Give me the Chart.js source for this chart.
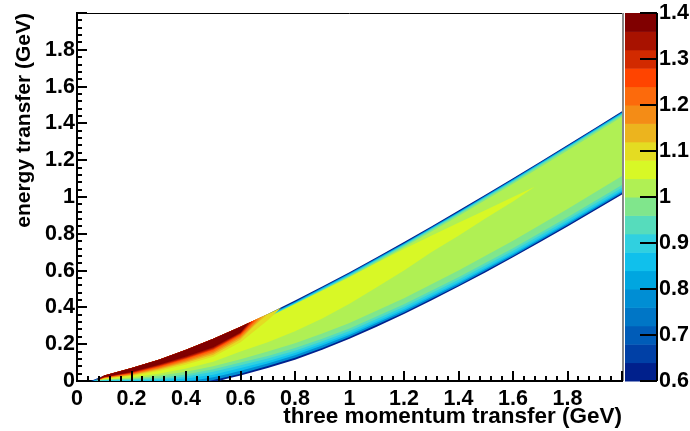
<!DOCTYPE html>
<html>
<head>
<meta charset="utf-8">
<script src="https://cdn.jsdelivr.net/npm/chart.js@4.4.1/dist/chart.umd.min.js"></script>
<style>
  html, body { margin: 0; padding: 0; background: #fff; }
  #wrap { width: 690px; height: 431px; }
</style>
</head>
<body>
<div id="wrap"><canvas id="chart" width="690" height="431"></canvas></div>
<script>
// palette levels of the z axis (ratio), 20 bands of 0.04
const levels = [0.60, 0.64, 0.68, 0.72, 0.76, 0.80, 0.84, 0.88, 0.92, 0.96, 1.00,
                1.04, 1.08, 1.12, 1.16, 1.20, 1.24, 1.28, 1.32, 1.36, 1.40];
const palette = ['#00208c', '#0040a6', '#005cb8', '#0076c6', '#008ed4', '#00a6e0',
                 '#10c0ec', '#30d0e0', '#56dcbc', '#80e68c', '#b0f054', '#d8f826',
                 '#e4dc22', '#ecb41e', '#f48c16', '#fc6a0c', '#ff4400', '#d22a00',
                 '#a81200', '#800000'];

const xTicks = [0, 0.2, 0.4, 0.6, 0.8, 1, 1.2, 1.4, 1.6, 1.8];
const yTicks = [0, 0.2, 0.4, 0.6, 0.8, 1, 1.2, 1.4, 1.6, 1.8];
const zTicks = [0.6, 0.7, 0.8, 0.9, 1, 1.1, 1.2, 1.3, 1.4];

// contour regions, [q (GeV), omega (GeV)], value >= level
const c060 = [[0.05,0],[0.1,0.03],[0.2,0.07],[0.3,0.116],[0.4,0.17],[0.5,0.23],[0.6,0.295],[0.7,0.364],[0.8,0.437],[0.9,0.513],[1.0,0.591],[1.1,0.672],[1.2,0.755],[1.3,0.84],[1.4,0.926],[1.5,1.014],[1.6,1.102],[1.7,1.192],[1.8,1.283],[1.9,1.374],[2.0,1.466],
              [2.0,1.014],[1.9,0.926],[1.8,0.84],[1.7,0.755],[1.6,0.672],[1.5,0.591],[1.4,0.513],[1.3,0.437],[1.2,0.364],[1.1,0.295],[1.0,0.23],[0.9,0.17],[0.8,0.116],[0.7,0.07],[0.6,0.03],[0.55,0.012],[0.52,0]];
const c076 = [[0.056,0],[0.1,0.027],[0.2,0.066],[0.3,0.111],[0.4,0.165],[0.5,0.225],[0.6,0.289],[0.7,0.358],[0.8,0.431],[1.0,0.585],[1.2,0.749],[1.4,0.92],[1.6,1.096],[1.8,1.277],[2.0,1.46],
              [2.0,1.022],[1.8,0.848],[1.6,0.68],[1.4,0.521],[1.2,0.372],[1.0,0.239],[0.9,0.18],[0.8,0.127],[0.7,0.081],[0.6,0.04],[0.55,0.022],[0.5,0.005],[0.48,0]];
const c084 = [[0.06,0],[0.1,0.025],[0.2,0.062],[0.3,0.107],[0.4,0.161],[0.5,0.221],[0.6,0.285],[0.7,0.354],[0.8,0.427],[1.0,0.581],[1.2,0.745],[1.4,0.916],[1.6,1.092],[1.8,1.273],[2.0,1.456],
              [2.0,1.03],[1.8,0.856],[1.6,0.688],[1.4,0.53],[1.2,0.382],[1.0,0.25],[0.9,0.193],[0.8,0.14],[0.7,0.095],[0.6,0.056],[0.55,0.037],[0.5,0.02],[0.45,0.008],[0.4,0.002],[0.35,0]];
const c088 = [[0.065,0.001],[0.1,0.023],[0.2,0.06],[0.3,0.104],[0.4,0.158],[0.5,0.218],[0.6,0.282],[0.7,0.351],[0.8,0.424],[1.0,0.578],[1.2,0.742],[1.4,0.913],[1.6,1.089],[1.8,1.27],[2.0,1.453],
              [2.0,1.038],[1.8,0.864],[1.6,0.696],[1.4,0.538],[1.2,0.391],[1.0,0.26],[0.9,0.204],[0.8,0.152],[0.7,0.108],[0.6,0.07],[0.5,0.034],[0.4,0.013],[0.3,0.004],[0.2,0.002],[0.1,0.002]];
const c092 = [[0.07,0.002],[0.1,0.021],[0.2,0.057],[0.3,0.101],[0.4,0.155],[0.5,0.215],[0.6,0.279],[0.7,0.348],[0.8,0.421],[1.0,0.575],[1.2,0.739],[1.4,0.91],[1.6,1.086],[1.8,1.267],[2.0,1.45],
              [2.0,1.05],[1.8,0.876],[1.6,0.708],[1.4,0.55],[1.2,0.403],[1.0,0.272],[0.9,0.216],[0.8,0.165],[0.7,0.122],[0.6,0.085],[0.5,0.05],[0.4,0.024],[0.3,0.01],[0.2,0.005],[0.1,0.004]];
const c096 = [[0.075,0.003],[0.1,0.019],[0.2,0.054],[0.3,0.097],[0.4,0.151],[0.5,0.211],[0.6,0.275],[0.7,0.344],[0.8,0.417],[1.0,0.571],[1.2,0.735],[1.4,0.906],[1.6,1.082],[1.8,1.263],[2.0,1.446],
              [2.0,1.065],[1.8,0.89],[1.6,0.722],[1.4,0.564],[1.2,0.417],[1.0,0.286],[0.9,0.23],[0.8,0.18],[0.7,0.136],[0.6,0.1],[0.5,0.064],[0.4,0.036],[0.3,0.018],[0.2,0.009],[0.1,0.006]];
const c100 = [[0.08,0.005],[0.1,0.018],[0.2,0.052],[0.3,0.094],[0.4,0.147],[0.5,0.206],[0.6,0.27],[0.7,0.338],[0.8,0.41],[1.0,0.563],[1.2,0.727],[1.4,0.897],[1.6,1.072],[1.8,1.253],[2.0,1.436],
              [2.0,1.114],[1.8,0.935],[1.6,0.762],[1.4,0.6],[1.2,0.45],[1.0,0.315],[0.9,0.258],[0.8,0.205],[0.7,0.16],[0.6,0.118],[0.5,0.08],[0.4,0.05],[0.3,0.028],[0.2,0.014],[0.1,0.008]];
const c104 = [[0.085,0.007],[0.1,0.018],[0.2,0.055],[0.3,0.1],[0.4,0.152],[0.5,0.212],[0.6,0.276],[0.7,0.345],[0.8,0.418],[0.9,0.492],[1.0,0.565],[1.1,0.642],[1.2,0.718],[1.3,0.79],[1.4,0.86],[1.5,0.93],[1.6,1.0],[1.68,1.056],
              [1.6,0.975],[1.5,0.885],[1.4,0.79],[1.3,0.7],[1.2,0.6],[1.1,0.51],[1.0,0.42],[0.9,0.34],[0.8,0.27],[0.7,0.21],[0.6,0.16],[0.5,0.105],[0.4,0.068],[0.3,0.04],[0.2,0.02],[0.1,0.01]];
const c108 = [[0.088,0.008],[0.1,0.03],[0.2,0.07],[0.3,0.116],[0.4,0.17],[0.5,0.23],[0.6,0.295],[0.7,0.364],[0.75,0.4],
              [0.7,0.33],[0.65,0.27],[0.6,0.21],[0.5,0.132],[0.4,0.09],[0.3,0.055],[0.2,0.027],[0.1,0.013]];
const c112 = [[0.085,0.007],[0.1,0.03],[0.2,0.07],[0.3,0.116],[0.4,0.17],[0.5,0.23],[0.6,0.295],[0.7,0.364],
              [0.65,0.3],[0.6,0.225],[0.5,0.143],[0.4,0.099],[0.3,0.061],[0.2,0.031],[0.1,0.014]];
const c116 = [[0.082,0.006],[0.1,0.03],[0.2,0.07],[0.3,0.116],[0.4,0.17],[0.5,0.23],[0.6,0.295],[0.68,0.35],
              [0.6,0.235],[0.5,0.152],[0.4,0.106],[0.3,0.066],[0.2,0.034],[0.1,0.016]];
const c120 = [[0.079,0.005],[0.1,0.03],[0.2,0.07],[0.3,0.116],[0.4,0.17],[0.5,0.23],[0.6,0.295],[0.665,0.34],
              [0.6,0.243],[0.5,0.16],[0.4,0.113],[0.3,0.071],[0.2,0.038],[0.1,0.018]];
const c124 = [[0.076,0.005],[0.1,0.03],[0.2,0.07],[0.3,0.116],[0.4,0.17],[0.5,0.23],[0.6,0.295],[0.655,0.333],
              [0.6,0.25],[0.5,0.168],[0.4,0.119],[0.3,0.076],[0.2,0.041],[0.1,0.019]];
const c128 = [[0.073,0.004],[0.1,0.03],[0.2,0.07],[0.3,0.116],[0.4,0.17],[0.5,0.23],[0.6,0.295],[0.645,0.326],
              [0.6,0.256],[0.5,0.172],[0.4,0.123],[0.3,0.08],[0.2,0.043],[0.1,0.02]];
const c132 = [[0.07,0.004],[0.1,0.03],[0.2,0.07],[0.3,0.116],[0.4,0.17],[0.5,0.23],[0.6,0.295],[0.638,0.321],
              [0.6,0.26],[0.5,0.178],[0.4,0.128],[0.3,0.084],[0.2,0.046],[0.1,0.021]];
const c136 = [[0.068,0.003],[0.1,0.03],[0.2,0.07],[0.3,0.116],[0.4,0.17],[0.5,0.23],[0.6,0.295],[0.63,0.316],
              [0.6,0.264],[0.5,0.184],[0.4,0.133],[0.3,0.088],[0.2,0.049],[0.1,0.022]];

// [palette band index, region], drawn from lowest to highest level
const contours = [
  [0, c060], [4, c076], [6, c084], [7, c088], [8, c092], [9, c096], [10, c100], [11, c104],
  [12, c108], [13, c112], [14, c116], [15, c120], [16, c124], [17, c128], [18, c132], [19, c136]
];

const FAMILY = "'Liberation Sans', Arial, sans-serif";
const TICK_FONT = { family: FAMILY, weight: 'bold', size: 21.5 };

const datasets = contours.map(([band, pts], i) => ({
  data: pts.map(([x, y]) => ({ x, y })),
  showLine: true,
  fill: 'shape',
  backgroundColor: palette[band],
  borderColor: palette[band],
  borderWidth: 0,
  pointRadius: 0,
  tension: 0,
  order: contours.length - i
}));

// keep the plot frame where it is: no extra room for the edge labels
const noPad = s => { s.paddingTop = 0; s.paddingBottom = 0; s.paddingLeft = 0; s.paddingRight = 0; };

// axis frame, inward ticks and the colour bar
const frame = {
  id: 'frame',
  afterDraw(chart) {
    const { ctx, chartArea: a, scales: { x, y, z } } = chart;
    ctx.save();
    ctx.strokeStyle = '#000';
    ctx.lineWidth = 1;
    ctx.beginPath();
    ctx.moveTo(a.left, a.top + 0.5);
    ctx.lineTo(a.right, a.top + 0.5);
    ctx.stroke();
    ctx.strokeStyle = '#888';
    ctx.lineWidth = 2;
    ctx.beginPath();
    ctx.moveTo(a.right + 1, a.top);
    ctx.lineTo(a.right + 1, a.bottom);
    ctx.stroke();

    ctx.strokeStyle = '#000';
    ctx.lineWidth = 2;
    ctx.beginPath();
    for (let i = 0; i <= 50; i++) {
      const v = i * 0.04;
      const len = i % 5 === 0 ? 10 : 5;
      const px = Math.round(x.getPixelForValue(v));
      ctx.moveTo(px, a.bottom);
      ctx.lineTo(px, a.bottom - len);
      const py = Math.round(y.getPixelForValue(v));
      ctx.moveTo(a.left, py);
      ctx.lineTo(a.left + len, py);
    }
    ctx.stroke();

    // colour bar
    const bx = 625, bw = 31;
    for (let i = 0; i < palette.length; i++) {
      const y0 = z.getPixelForValue(levels[i]);
      const y1 = z.getPixelForValue(levels[i + 1]);
      ctx.fillStyle = palette[i];
      ctx.fillRect(bx, y1, bw, y0 - y1 + 0.5);
    }
    ctx.strokeStyle = '#000';
    ctx.lineWidth = 2;
    ctx.beginPath();
    ctx.moveTo(bx + bw + 1, z.top);
    ctx.lineTo(bx + bw + 1, z.bottom);
    zTicks.forEach(v => {
      const py = Math.round(z.getPixelForValue(v));
      ctx.moveTo(bx + bw + 1, py);
      ctx.lineTo(bx + 15, py);
    });
    ctx.stroke();
    ctx.restore();
  }
};

new Chart(document.getElementById('chart'), {
  type: 'scatter',
  data: { datasets },
  options: {
    responsive: false,
    animation: false,
    layout: { padding: { top: 13, left: 0, right: 0, bottom: 0 } },
    plugins: { legend: { display: false }, tooltip: { enabled: false } },
    scales: {
      x: {
        type: 'linear', min: 0, max: 2,
        afterBuildTicks: s => { s.ticks = xTicks.map(v => ({ value: v })); },
        afterFit: s => { s.height = 50; noPad(s); },
        grid: { display: false, drawTicks: false },
        border: { display: true, color: '#000', width: 2 },
        ticks: { color: '#000', font: TICK_FONT, padding: 5, maxRotation: 0, autoSkip: false, callback: v => String(v) },
        title: { display: true, text: 'three momentum transfer (GeV)', align: 'end', color: '#000',
                 font: { family: FAMILY, weight: 'bold', size: 22.5 }, padding: { top: 0, bottom: 1 } }
      },
      y: {
        type: 'linear', min: 0, max: 2,
        afterBuildTicks: s => { s.ticks = yTicks.map(v => ({ value: v })); },
        afterFit: s => { s.width = 77; noPad(s); },
        grid: { display: false, drawTicks: false },
        border: { display: true, color: '#000', width: 2 },
        ticks: { color: '#000', font: TICK_FONT, padding: 2, autoSkip: false, callback: v => String(v) },
        title: { display: true, text: 'energy transfer (GeV)', align: 'end', color: '#000',
                 font: { family: FAMILY, weight: 'bold', size: 21 }, padding: { top: 12, bottom: 0 } }
      },
      z: {
        type: 'linear', position: 'right', min: 0.6, max: 1.4,
        afterBuildTicks: s => { s.ticks = zTicks.map(v => ({ value: v })); },
        afterFit: s => { s.width = 68; noPad(s); },
        grid: { display: false, drawTicks: false },
        border: { display: false },
        ticks: { color: '#000', font: TICK_FONT, padding: 37, autoSkip: false, callback: v => String(v) }
      }
    }
  },
  plugins: [frame]
});
</script>
</body>
</html>
